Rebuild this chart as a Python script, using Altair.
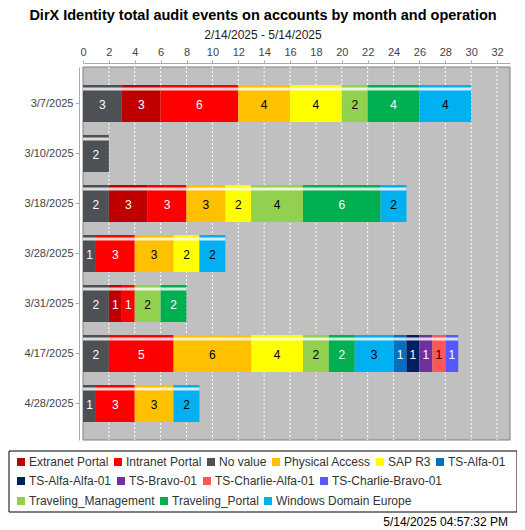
import altair as alt
import pandas as pd

dates = ["3/7/2025", "3/10/2025", "3/18/2025", "3/28/2025", "3/31/2025", "4/17/2025", "4/28/2025"]

apps = ["Extranet Portal", "Intranet Portal", "No value", "Physical Access", "SAP R3",
        "TS-Alfa-01", "TS-Alfa-Alfa-01", "TS-Bravo-01", "TS-Charlie-Alfa-01",
        "TS-Charlie-Bravo-01", "Traveling_Management", "Traveling_Portal",
        "Windows Domain Europe"]
colors = ["#C00000", "#FF0000", "#4D5054", "#FFC000", "#FFFF00",
          "#0070C0", "#002060", "#7030A0", "#FF5757",
          "#5757FF", "#92D050", "#00B050",
          "#00B0F0"]

stack_order = ["No value", "Extranet Portal", "Intranet Portal", "Physical Access", "SAP R3",
               "Traveling_Management", "Traveling_Portal", "Windows Domain Europe",
               "TS-Alfa-01", "TS-Alfa-Alfa-01", "TS-Bravo-01", "TS-Charlie-Alfa-01",
               "TS-Charlie-Bravo-01"]

# values per series, one per date
no_value = [3, 2, 2, 1, 2, 2, 1]
extranet_portal = [3, 0, 3, 0, 1, 0, 0]
intranet_portal = [6, 0, 3, 3, 1, 5, 3]
physical_access = [4, 0, 3, 3, 0, 6, 3]
sap_r3 = [4, 0, 2, 2, 0, 4, 0]
traveling_management = [2, 0, 4, 0, 2, 2, 0]
traveling_portal = [4, 0, 6, 0, 2, 2, 0]
windows_domain_europe = [4, 0, 2, 2, 0, 3, 2]
ts_alfa_01 = [0, 0, 0, 0, 0, 1, 0]
ts_alfa_alfa_01 = [0, 0, 0, 0, 0, 1, 0]
ts_bravo_01 = [0, 0, 0, 0, 0, 1, 0]
ts_charlie_alfa_01 = [0, 0, 0, 0, 0, 1, 0]
ts_charlie_bravo_01 = [0, 0, 0, 0, 0, 1, 0]

series = {
    "No value": no_value,
    "Extranet Portal": extranet_portal,
    "Intranet Portal": intranet_portal,
    "Physical Access": physical_access,
    "SAP R3": sap_r3,
    "Traveling_Management": traveling_management,
    "Traveling_Portal": traveling_portal,
    "Windows Domain Europe": windows_domain_europe,
    "TS-Alfa-01": ts_alfa_01,
    "TS-Alfa-Alfa-01": ts_alfa_alfa_01,
    "TS-Bravo-01": ts_bravo_01,
    "TS-Charlie-Alfa-01": ts_charlie_alfa_01,
    "TS-Charlie-Bravo-01": ts_charlie_bravo_01,
}

legend_row1 = ["Extranet Portal", "Intranet Portal", "No value", "Physical Access", "SAP R3", "TS-Alfa-01"]
legend_row2 = ["TS-Alfa-Alfa-01", "TS-Bravo-01", "TS-Charlie-Alfa-01", "TS-Charlie-Bravo-01"]
legend_row3 = ["Traveling_Management", "Traveling_Portal", "Windows Domain Europe"]

light_apps = ["Physical Access", "SAP R3", "Traveling_Management", "Windows Domain Europe",
              "TS-Charlie-Alfa-01"]

title_text = "DirX Identity total audit events on accounts by month and operation"
subtitle_text = "2/14/2025 - 5/14/2025"
stamp_text = "5/14/2025 04:57:32 PM"
x_ticks = list(range(0, 33, 2))

rows = []
for app, vals in series.items():
    for d, v in zip(dates, vals):
        if v > 0:
            rows.append({"date": d, "app": app, "value": v, "order": stack_order.index(app)})
df = pd.DataFrame(rows)
grid_df = pd.DataFrame({"tick": x_ticks[1:]})

FONT = "Liberation Sans"
W, H = 427, 373

base = alt.Chart(df).transform_stack(
    stack="value", groupby=["date"], sort=[alt.SortField("order")], as_=["x0", "x1"]
).transform_calculate(mid="(datum.x0 + datum.x1) / 2")

xscale = alt.Scale(domain=[0, 33], nice=False, zero=False)
yscale = alt.Scale(domain=dates, paddingInner=0.26, paddingOuter=0.36)

xaxis = alt.Axis(orient="top", values=x_ticks, title=None, offset=4, tickSize=3,
                 labelPadding=3, grid=False, domainColor="#aaaaaa", tickColor="#aaaaaa",
                 labelOverlap=False, labelFlush=False, labelBound=False,
                 labelFont=FONT, labelFontSize=11, labelColor="#444444")
yaxis = alt.Axis(orient="left", title=None, offset=4, tickSize=4, labelPadding=2,
                 domainColor="#aaaaaa", tickColor="#aaaaaa", grid=False,
                 labelFont=FONT, labelFontSize=11, labelColor="#444444")

color_scale = alt.Scale(domain=apps, range=colors)

def legend_for(values, ly):
    return alt.Legend(values=values, orient="none", legendX=-68, legendY=ly,
                      direction="horizontal", title=None, symbolType="square",
                      symbolSize=64, symbolStrokeWidth=0, symbolOpacity=1,
                      labelFont=FONT, labelFontSize=12, labelColor="#333333",
                      labelOffset=2, columnPadding=3, padding=0)

background = alt.Chart(alt.Data(values=[{"k": 1}])).mark_rect(
    fill="#C0C0C0", stroke="#808080", strokeWidth=1
).encode(x=alt.value(0), x2=alt.value("width"), y=alt.value(0), y2=alt.value("height"))

gridlines = alt.Chart(grid_df).mark_rule(color="white", strokeDash=[2, 2], strokeWidth=1).encode(
    x=alt.X("tick:Q", scale=xscale, axis=xaxis),
)

bars = base.mark_bar().encode(
    x=alt.X("x0:Q", scale=xscale, axis=xaxis),
    x2="x1:Q",
    y=alt.Y("date:N", scale=yscale, axis=yaxis, sort=dates),
    color=alt.Color("app:N", scale=color_scale, legend=legend_for(legend_row1, 389)),
)

gloss = base.mark_bar(
    size=5, yOffset=-14.5,
    fill=alt.Gradient(
        gradient="linear", x1=0, x2=0, y1=0, y2=1,
        stops=[alt.GradientStop(offset=0, color="rgba(255,255,255,0)"),
               alt.GradientStop(offset=0.5, color="rgba(255,255,255,1)"),
               alt.GradientStop(offset=1, color="rgba(255,255,255,0)")]),
).encode(
    x=alt.X("x0:Q", scale=xscale, axis=xaxis), x2="x1:Q",
    y=alt.Y("date:N", scale=yscale, axis=yaxis, sort=dates),
)

labels = base.mark_text(font=FONT, fontSize=12, baseline="middle", dy=1).encode(
    x=alt.X("mid:Q", scale=xscale, axis=xaxis),
    y=alt.Y("date:N", scale=yscale, axis=yaxis, sort=dates),
    text="value:Q",
    color=alt.condition(alt.FieldOneOfPredicate(field="app", oneOf=light_apps),
                        alt.value("black"), alt.value("white")),
)

leg2 = alt.Chart(df).transform_filter("false").mark_square().encode(
    color=alt.Color("app:N", scale=color_scale, legend=legend_for(legend_row2, 408)))
leg3 = alt.Chart(df).transform_filter("false").mark_square().encode(
    color=alt.Color("app:N", scale=color_scale, legend=legend_for(legend_row3, 428)))

frame = alt.Chart(alt.Data(values=[{"k": 1}])).mark_rect(
    fill="transparent", stroke="black", strokeWidth=1, clip=False
).encode(x=alt.value(-74), x2=alt.value(434), y=alt.value(384), y2=alt.value(445))

stamp = alt.Chart(alt.Data(values=[{"t": stamp_text}])).mark_text(
    font=FONT, fontSize=12, align="right", baseline="middle", color="black", clip=False
).encode(x=alt.value(425), y=alt.value(455), text="t:N")

chart = alt.layer(background, gridlines, bars, gloss, labels, leg2, leg3, frame, stamp).resolve_scale(
    color="independent"
).properties(
    width=W, height=H,
    autosize=alt.AutoSizeParams(type="none"),
    padding={"left": 75, "top": 59, "right": 7, "bottom": 90},
    title=alt.TitleParams(text=title_text, subtitle=subtitle_text, anchor="middle",
                          frame="bounds", font=FONT, fontSize=14.5, fontWeight="bold",
                          color="black", subtitleFont=FONT, subtitleFontSize=12,
                          subtitleColor="#222222", subtitlePadding=7, offset=4),
).configure_view(stroke=None)

chart.save("out.html", embed_options={"renderer": "svg", "actions": False})
